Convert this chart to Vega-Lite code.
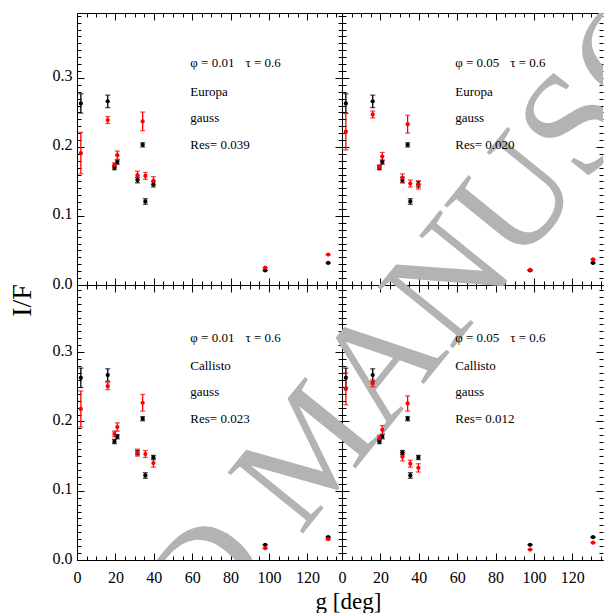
{
"$schema": "https://vega.github.io/schema/vega-lite/v6.json",
"background": "white",
"padding": {"left": 8, "top": 12, "right": 0, "bottom": 0},
"columns": 2,
"spacing": 0,
"bounds": "flush",
"datasets": {
"pts": [
{"p":"TL","s":"obs","g":2,"v":0.263,"lo":0.249,"hi":0.277},
{"p":"TL","s":"obs","g":16,"v":0.266,"lo":0.257,"hi":0.275},
{"p":"TL","s":"obs","g":19.5,"v":0.170,"lo":0.167,"hi":0.173},
{"p":"TL","s":"obs","g":21,"v":0.178,"lo":0.175,"hi":0.181},
{"p":"TL","s":"obs","g":31.5,"v":0.152,"lo":0.148,"hi":0.156},
{"p":"TL","s":"obs","g":34.2,"v":0.203,"lo":0.200,"hi":0.206},
{"p":"TL","s":"obs","g":35.6,"v":0.121,"lo":0.117,"hi":0.125},
{"p":"TL","s":"obs","g":39.8,"v":0.146,"lo":0.142,"hi":0.150},
{"p":"TL","s":"obs","g":98,"v":0.021,"lo":0.021,"hi":0.021},
{"p":"TL","s":"obs","g":130.8,"v":0.032,"lo":0.032,"hi":0.032},
{"p":"TL","s":"model","g":2,"v":0.191,"lo":0.161,"hi":0.221},
{"p":"TL","s":"model","g":16,"v":0.239,"lo":0.234,"hi":0.244},
{"p":"TL","s":"model","g":19.5,"v":0.174,"lo":0.171,"hi":0.177},
{"p":"TL","s":"model","g":21,"v":0.188,"lo":0.182,"hi":0.194},
{"p":"TL","s":"model","g":31.5,"v":0.159,"lo":0.153,"hi":0.165},
{"p":"TL","s":"model","g":34.2,"v":0.237,"lo":0.2235,"hi":0.2505},
{"p":"TL","s":"model","g":35.6,"v":0.158,"lo":0.153,"hi":0.163},
{"p":"TL","s":"model","g":39.8,"v":0.151,"lo":0.145,"hi":0.157},
{"p":"TL","s":"model","g":98,"v":0.025,"lo":0.025,"hi":0.025},
{"p":"TL","s":"model","g":130.8,"v":0.044,"lo":0.044,"hi":0.044},
{"p":"TR","s":"obs","g":2,"v":0.263,"lo":0.249,"hi":0.277},
{"p":"TR","s":"obs","g":16,"v":0.266,"lo":0.257,"hi":0.275},
{"p":"TR","s":"obs","g":19.5,"v":0.170,"lo":0.167,"hi":0.173},
{"p":"TR","s":"obs","g":21,"v":0.178,"lo":0.175,"hi":0.181},
{"p":"TR","s":"obs","g":31.5,"v":0.152,"lo":0.148,"hi":0.156},
{"p":"TR","s":"obs","g":34.2,"v":0.203,"lo":0.200,"hi":0.206},
{"p":"TR","s":"obs","g":35.6,"v":0.121,"lo":0.117,"hi":0.125},
{"p":"TR","s":"obs","g":39.8,"v":0.146,"lo":0.142,"hi":0.150},
{"p":"TR","s":"obs","g":98,"v":0.021,"lo":0.021,"hi":0.021},
{"p":"TR","s":"obs","g":130.8,"v":0.032,"lo":0.032,"hi":0.032},
{"p":"TR","s":"model","g":2,"v":0.222,"lo":0.1955,"hi":0.2485},
{"p":"TR","s":"model","g":16,"v":0.247,"lo":0.242,"hi":0.252},
{"p":"TR","s":"model","g":19.5,"v":0.171,"lo":0.168,"hi":0.174},
{"p":"TR","s":"model","g":21,"v":0.186,"lo":0.180,"hi":0.192},
{"p":"TR","s":"model","g":31.5,"v":0.155,"lo":0.149,"hi":0.161},
{"p":"TR","s":"model","g":34.2,"v":0.233,"lo":0.220,"hi":0.246},
{"p":"TR","s":"model","g":35.6,"v":0.147,"lo":0.142,"hi":0.152},
{"p":"TR","s":"model","g":39.8,"v":0.145,"lo":0.139,"hi":0.151},
{"p":"TR","s":"model","g":98,"v":0.022,"lo":0.022,"hi":0.022},
{"p":"TR","s":"model","g":130.8,"v":0.037,"lo":0.037,"hi":0.037},
{"p":"BL","s":"obs","g":2,"v":0.263,"lo":0.249,"hi":0.277},
{"p":"BL","s":"obs","g":16,"v":0.267,"lo":0.258,"hi":0.276},
{"p":"BL","s":"obs","g":19.5,"v":0.171,"lo":0.168,"hi":0.174},
{"p":"BL","s":"obs","g":21,"v":0.178,"lo":0.175,"hi":0.181},
{"p":"BL","s":"obs","g":31.5,"v":0.155,"lo":0.152,"hi":0.158},
{"p":"BL","s":"obs","g":34.2,"v":0.204,"lo":0.201,"hi":0.207},
{"p":"BL","s":"obs","g":35.6,"v":0.122,"lo":0.118,"hi":0.126},
{"p":"BL","s":"obs","g":39.8,"v":0.148,"lo":0.145,"hi":0.151},
{"p":"BL","s":"obs","g":98,"v":0.022,"lo":0.022,"hi":0.022},
{"p":"BL","s":"obs","g":130.8,"v":0.033,"lo":0.033,"hi":0.033},
{"p":"BL","s":"model","g":2,"v":0.218,"lo":0.192,"hi":0.244},
{"p":"BL","s":"model","g":16,"v":0.251,"lo":0.246,"hi":0.256},
{"p":"BL","s":"model","g":19.5,"v":0.182,"lo":0.178,"hi":0.186},
{"p":"BL","s":"model","g":21,"v":0.192,"lo":0.186,"hi":0.198},
{"p":"BL","s":"model","g":31.5,"v":0.155,"lo":0.150,"hi":0.160},
{"p":"BL","s":"model","g":34.2,"v":0.227,"lo":0.215,"hi":0.239},
{"p":"BL","s":"model","g":35.6,"v":0.153,"lo":0.148,"hi":0.158},
{"p":"BL","s":"model","g":39.8,"v":0.140,"lo":0.134,"hi":0.146},
{"p":"BL","s":"model","g":98,"v":0.017,"lo":0.017,"hi":0.017},
{"p":"BL","s":"model","g":130.8,"v":0.030,"lo":0.030,"hi":0.030},
{"p":"BR","s":"obs","g":2,"v":0.263,"lo":0.249,"hi":0.277},
{"p":"BR","s":"obs","g":16,"v":0.267,"lo":0.258,"hi":0.276},
{"p":"BR","s":"obs","g":19.5,"v":0.171,"lo":0.168,"hi":0.174},
{"p":"BR","s":"obs","g":21,"v":0.178,"lo":0.175,"hi":0.181},
{"p":"BR","s":"obs","g":31.5,"v":0.155,"lo":0.152,"hi":0.158},
{"p":"BR","s":"obs","g":34.2,"v":0.204,"lo":0.201,"hi":0.207},
{"p":"BR","s":"obs","g":35.6,"v":0.122,"lo":0.118,"hi":0.126},
{"p":"BR","s":"obs","g":39.8,"v":0.148,"lo":0.145,"hi":0.151},
{"p":"BR","s":"obs","g":98,"v":0.022,"lo":0.022,"hi":0.022},
{"p":"BR","s":"obs","g":130.8,"v":0.033,"lo":0.033,"hi":0.033},
{"p":"BR","s":"model","g":2,"v":0.247,"lo":0.224,"hi":0.270},
{"p":"BR","s":"model","g":16,"v":0.255,"lo":0.250,"hi":0.260},
{"p":"BR","s":"model","g":19.5,"v":0.176,"lo":0.172,"hi":0.180},
{"p":"BR","s":"model","g":21,"v":0.188,"lo":0.182,"hi":0.194},
{"p":"BR","s":"model","g":31.5,"v":0.149,"lo":0.143,"hi":0.155},
{"p":"BR","s":"model","g":34.2,"v":0.226,"lo":0.215,"hi":0.237},
{"p":"BR","s":"model","g":35.6,"v":0.139,"lo":0.134,"hi":0.144},
{"p":"BR","s":"model","g":39.8,"v":0.133,"lo":0.127,"hi":0.139},
{"p":"BR","s":"model","g":98,"v":0.015,"lo":0.015,"hi":0.015},
{"p":"BR","s":"model","g":130.8,"v":0.025,"lo":0.025,"hi":0.025}
],
"ann": [
{"p":"TL","t":"φ = 0.01","x":59,"y":0.321},
{"p":"TL","t":"τ = 0.6","x":87.7,"y":0.321},
{"p":"TL","t":"Europa","x":59,"y":0.280},
{"p":"TL","t":"gauss","x":59,"y":0.242},
{"p":"TL","t":"Res= 0.039","x":59,"y":0.203},
{"p":"TR","t":"φ = 0.05","x":59,"y":0.321},
{"p":"TR","t":"τ = 0.6","x":87.7,"y":0.321},
{"p":"TR","t":"Europa","x":59,"y":0.280},
{"p":"TR","t":"gauss","x":59,"y":0.242},
{"p":"TR","t":"Res= 0.020","x":59,"y":0.203},
{"p":"BL","t":"φ = 0.01","x":59,"y":0.321},
{"p":"BL","t":"τ = 0.6","x":87.7,"y":0.321},
{"p":"BL","t":"Callisto","x":59,"y":0.280},
{"p":"BL","t":"gauss","x":59,"y":0.242},
{"p":"BL","t":"Res= 0.023","x":59,"y":0.203},
{"p":"BR","t":"φ = 0.05","x":59,"y":0.321},
{"p":"BR","t":"τ = 0.6","x":87.7,"y":0.321},
{"p":"BR","t":"Callisto","x":59,"y":0.280},
{"p":"BR","t":"gauss","x":59,"y":0.242},
{"p":"BR","t":"Res= 0.012","x":59,"y":0.203}
],
"wm": [
{"p":"TL","t":"ACCEPTED MANUSCRIPT","x":123.4,"y":-0.239},
{"p":"TR","t":"ACCEPTED MANUSCRIPT","x":-14.6,"y":-0.239},
{"p":"BL","t":"ACCEPTED MANUSCRIPT","x":123.4,"y":0.159},
{"p":"BR","t":"ACCEPTED MANUSCRIPT","x":-14.6,"y":0.159}
]
},
"concat": [
{
"width": 265, "height": 272,
"resolve": {"axis": {"x": "independent", "y": "independent"}},
"layer": [
{"data": {"name": "wm"}, "transform": [{"filter": "datum.p==='TL'"}],
 "mark": {"type": "text", "clip": true, "angle": -51, "fontSize": 148, "color": "#b3b3b3", "align": "center", "baseline": "middle"},
 "encoding": {"x": {"field": "x", "type": "quantitative", "scale": {"domain": [0, 138], "nice": false, "zero": false}, "axis": null},
  "y": {"field": "y", "type": "quantitative", "scale": {"domain": [0, 0.394], "nice": false, "zero": false}, "axis": null},
  "text": {"field": "t"}}},
{"data": {"name": "pts"}, "transform": [{"filter": "datum.p==='TL'"}],
 "mark": {"type": "rule", "strokeWidth": 1.3},
 "encoding": {"x": {"field": "g", "type": "quantitative", "scale": {"domain": [0, 138], "nice": false, "zero": false}, "axis": {"orient": "bottom", "values": [0,20,40,60,80,100,120], "tickSize": -7, "labels": false, "title": null}},
  "y": {"field": "lo", "type": "quantitative", "scale": {"domain": [0, 0.394], "nice": false, "zero": false}, "axis": {"orient": "left", "values": [0,0.1,0.2,0.3], "tickSize": -7, "format": ".1f", "labelPadding": 12, "labelOffset": -2, "title": null}},
  "y2": {"field": "hi"},
  "color": {"field": "s", "type": "nominal", "scale": {"domain": ["obs","model"], "range": ["#000000","#ff0000"]}, "legend": null}}},
{"data": {"name": "pts"}, "transform": [{"filter": "datum.p==='TL'"}, {"fold": ["lo","hi"], "as": ["k","cv"]}],
 "mark": {"type": "tick", "orient": "horizontal", "size": 5, "thickness": 1.3},
 "encoding": {"x": {"field": "g", "type": "quantitative", "scale": {"domain": [0, 138], "nice": false, "zero": false}, "axis": {"orient": "bottom", "values": [5,10,15,25,30,35,45,50,55,65,70,75,85,90,95,105,110,115,125,130,135], "tickSize": -4, "labels": false, "domain": false, "title": null}},
  "y": {"field": "cv", "type": "quantitative", "scale": {"domain": [0, 0.394], "nice": false, "zero": false}, "axis": {"orient": "left", "values": [0.01,0.02,0.03,0.04,0.05,0.06,0.07,0.08,0.09,0.11,0.12,0.13,0.14,0.15,0.16,0.17,0.18,0.19,0.21,0.22,0.23,0.24,0.25,0.26,0.27,0.28,0.29,0.31,0.32,0.33,0.34,0.35,0.36,0.37,0.38,0.39], "tickSize": -4, "labels": false, "domain": false, "title": null}},
  "color": {"field": "s", "type": "nominal", "scale": {"domain": ["obs","model"], "range": ["#000000","#ff0000"]}, "legend": null}}},
{"data": {"name": "pts"}, "transform": [{"filter": "datum.p==='TL'"}],
 "mark": {"type": "point", "filled": true, "size": 18, "opacity": 1},
 "encoding": {"x": {"field": "g", "type": "quantitative", "scale": {"domain": [0, 138], "nice": false, "zero": false}, "axis": {"orient": "top", "values": [0,20,40,60,80,100,120], "tickSize": -7, "labels": false, "title": null}},
  "y": {"field": "v", "type": "quantitative", "scale": {"domain": [0, 0.394], "nice": false, "zero": false}, "axis": {"orient": "right", "values": [0,0.1,0.2,0.3], "tickSize": -7, "labels": false, "title": null}},
  "color": {"field": "s", "type": "nominal", "scale": {"domain": ["obs","model"], "range": ["#000000","#ff0000"]}, "legend": null}}},
{"data": {"name": "ann"}, "transform": [{"filter": "datum.p==='TL'"}],
 "mark": {"type": "text", "align": "left", "baseline": "middle", "fontSize": 13, "color": "#000000"},
 "encoding": {"x": {"field": "x", "type": "quantitative", "scale": {"domain": [0, 138], "nice": false, "zero": false}, "axis": {"orient": "top", "values": [5,10,15,25,30,35,45,50,55,65,70,75,85,90,95,105,110,115,125,130,135], "tickSize": -4, "labels": false, "domain": false, "title": null}},
  "y": {"field": "y", "type": "quantitative", "scale": {"domain": [0, 0.394], "nice": false, "zero": false}, "axis": {"orient": "right", "values": [0.01,0.02,0.03,0.04,0.05,0.06,0.07,0.08,0.09,0.11,0.12,0.13,0.14,0.15,0.16,0.17,0.18,0.19,0.21,0.22,0.23,0.24,0.25,0.26,0.27,0.28,0.29,0.31,0.32,0.33,0.34,0.35,0.36,0.37,0.38,0.39], "tickSize": -4, "labels": false, "domain": false, "title": null}},
  "text": {"field": "t"}}}
]
},
{
"width": 261, "height": 272,
"resolve": {"axis": {"x": "independent", "y": "independent"}},
"layer": [
{"data": {"name": "wm"}, "transform": [{"filter": "datum.p==='TR'"}],
 "mark": {"type": "text", "clip": true, "angle": -51, "fontSize": 148, "color": "#b3b3b3", "align": "center", "baseline": "middle"},
 "encoding": {"x": {"field": "x", "type": "quantitative", "scale": {"domain": [0, 136], "nice": false, "zero": false}, "axis": null},
  "y": {"field": "y", "type": "quantitative", "scale": {"domain": [0, 0.394], "nice": false, "zero": false}, "axis": null},
  "text": {"field": "t"}}},
{"data": {"name": "pts"}, "transform": [{"filter": "datum.p==='TR'"}],
 "mark": {"type": "rule", "strokeWidth": 1.3},
 "encoding": {"x": {"field": "g", "type": "quantitative", "scale": {"domain": [0, 136], "nice": false, "zero": false}, "axis": {"orient": "bottom", "values": [0,20,40,60,80,100,120], "tickSize": -7, "labels": false, "title": null}},
  "y": {"field": "lo", "type": "quantitative", "scale": {"domain": [0, 0.394], "nice": false, "zero": false}, "axis": {"orient": "left", "values": [0,0.1,0.2,0.3], "tickSize": -7, "labels": false, "title": null}},
  "y2": {"field": "hi"},
  "color": {"field": "s", "type": "nominal", "scale": {"domain": ["obs","model"], "range": ["#000000","#ff0000"]}, "legend": null}}},
{"data": {"name": "pts"}, "transform": [{"filter": "datum.p==='TR'"}, {"fold": ["lo","hi"], "as": ["k","cv"]}],
 "mark": {"type": "tick", "orient": "horizontal", "size": 5, "thickness": 1.3},
 "encoding": {"x": {"field": "g", "type": "quantitative", "scale": {"domain": [0, 136], "nice": false, "zero": false}, "axis": {"orient": "bottom", "values": [5,10,15,25,30,35,45,50,55,65,70,75,85,90,95,105,110,115,125,130,135], "tickSize": -4, "labels": false, "domain": false, "title": null}},
  "y": {"field": "cv", "type": "quantitative", "scale": {"domain": [0, 0.394], "nice": false, "zero": false}, "axis": {"orient": "left", "values": [0.01,0.02,0.03,0.04,0.05,0.06,0.07,0.08,0.09,0.11,0.12,0.13,0.14,0.15,0.16,0.17,0.18,0.19,0.21,0.22,0.23,0.24,0.25,0.26,0.27,0.28,0.29,0.31,0.32,0.33,0.34,0.35,0.36,0.37,0.38,0.39], "tickSize": -4, "labels": false, "domain": false, "title": null}},
  "color": {"field": "s", "type": "nominal", "scale": {"domain": ["obs","model"], "range": ["#000000","#ff0000"]}, "legend": null}}},
{"data": {"name": "pts"}, "transform": [{"filter": "datum.p==='TR'"}],
 "mark": {"type": "point", "filled": true, "size": 18, "opacity": 1},
 "encoding": {"x": {"field": "g", "type": "quantitative", "scale": {"domain": [0, 136], "nice": false, "zero": false}, "axis": {"orient": "top", "values": [0,20,40,60,80,100,120], "tickSize": -7, "labels": false, "title": null}},
  "y": {"field": "v", "type": "quantitative", "scale": {"domain": [0, 0.394], "nice": false, "zero": false}, "axis": {"orient": "right", "values": [0,0.1,0.2,0.3], "tickSize": -7, "labels": false, "domain": false, "title": null}},
  "color": {"field": "s", "type": "nominal", "scale": {"domain": ["obs","model"], "range": ["#000000","#ff0000"]}, "legend": null}}},
{"data": {"name": "ann"}, "transform": [{"filter": "datum.p==='TR'"}],
 "mark": {"type": "text", "align": "left", "baseline": "middle", "fontSize": 13, "color": "#000000"},
 "encoding": {"x": {"field": "x", "type": "quantitative", "scale": {"domain": [0, 136], "nice": false, "zero": false}, "axis": {"orient": "top", "values": [5,10,15,25,30,35,45,50,55,65,70,75,85,90,95,105,110,115,125,130,135], "tickSize": -4, "labels": false, "domain": false, "title": null}},
  "y": {"field": "y", "type": "quantitative", "scale": {"domain": [0, 0.394], "nice": false, "zero": false}, "axis": {"orient": "right", "values": [0.01,0.02,0.03,0.04,0.05,0.06,0.07,0.08,0.09,0.11,0.12,0.13,0.14,0.15,0.16,0.17,0.18,0.19,0.21,0.22,0.23,0.24,0.25,0.26,0.27,0.28,0.29,0.31,0.32,0.33,0.34,0.35,0.36,0.37,0.38,0.39], "tickSize": -4, "labels": false, "domain": false, "title": null}},
  "text": {"field": "t"}}}
]
},
{
"width": 265, "height": 275,
"resolve": {"axis": {"x": "independent", "y": "independent"}},
"layer": [
{"data": {"name": "wm"}, "transform": [{"filter": "datum.p==='BL'"}],
 "mark": {"type": "text", "clip": true, "angle": -51, "fontSize": 148, "color": "#b3b3b3", "align": "center", "baseline": "middle"},
 "encoding": {"x": {"field": "x", "type": "quantitative", "scale": {"domain": [0, 138], "nice": false, "zero": false}, "axis": null},
  "y": {"field": "y", "type": "quantitative", "scale": {"domain": [0, 0.397], "nice": false, "zero": false}, "axis": null},
  "text": {"field": "t"}}},
{"data": {"name": "pts"}, "transform": [{"filter": "datum.p==='BL'"}],
 "mark": {"type": "rule", "strokeWidth": 1.3},
 "encoding": {"x": {"field": "g", "type": "quantitative", "scale": {"domain": [0, 138], "nice": false, "zero": false}, "axis": {"orient": "bottom", "values": [0,20,40,60,80,100,120], "tickSize": -7, "format": "d", "labelBaseline": "middle", "labelPadding": 24, "title": "g [deg]", "titleFontSize": 23, "titleX": 271, "titleY": 48, "titleBaseline": "alphabetic", "titleAlign": "center", "titleAngle": 0}},
  "y": {"field": "lo", "type": "quantitative", "scale": {"domain": [0, 0.397], "nice": false, "zero": false}, "axis": {"orient": "left", "values": [0,0.1,0.2,0.3], "tickSize": -7, "format": ".1f", "labelPadding": 12, "labelOffset": -2, "title": "I/F", "titleFontSize": 28, "titleX": -47, "titleY": 15, "titleAngle": -90, "titleBaseline": "alphabetic", "titleAlign": "center"}},
  "y2": {"field": "hi"},
  "color": {"field": "s", "type": "nominal", "scale": {"domain": ["obs","model"], "range": ["#000000","#ff0000"]}, "legend": null}}},
{"data": {"name": "pts"}, "transform": [{"filter": "datum.p==='BL'"}, {"fold": ["lo","hi"], "as": ["k","cv"]}],
 "mark": {"type": "tick", "orient": "horizontal", "size": 5, "thickness": 1.3},
 "encoding": {"x": {"field": "g", "type": "quantitative", "scale": {"domain": [0, 138], "nice": false, "zero": false}, "axis": {"orient": "bottom", "values": [5,10,15,25,30,35,45,50,55,65,70,75,85,90,95,105,110,115,125,130,135], "tickSize": -4, "labels": false, "domain": false, "title": null}},
  "y": {"field": "cv", "type": "quantitative", "scale": {"domain": [0, 0.397], "nice": false, "zero": false}, "axis": {"orient": "left", "values": [0.01,0.02,0.03,0.04,0.05,0.06,0.07,0.08,0.09,0.11,0.12,0.13,0.14,0.15,0.16,0.17,0.18,0.19,0.21,0.22,0.23,0.24,0.25,0.26,0.27,0.28,0.29,0.31,0.32,0.33,0.34,0.35,0.36,0.37,0.38,0.39], "tickSize": -4, "labels": false, "domain": false, "title": null}},
  "color": {"field": "s", "type": "nominal", "scale": {"domain": ["obs","model"], "range": ["#000000","#ff0000"]}, "legend": null}}},
{"data": {"name": "pts"}, "transform": [{"filter": "datum.p==='BL'"}],
 "mark": {"type": "point", "filled": true, "size": 18, "opacity": 1},
 "encoding": {"x": {"field": "g", "type": "quantitative", "scale": {"domain": [0, 138], "nice": false, "zero": false}, "axis": {"orient": "top", "values": [0,20,40,60,80,100,120], "tickSize": -7, "labels": false, "title": null}},
  "y": {"field": "v", "type": "quantitative", "scale": {"domain": [0, 0.397], "nice": false, "zero": false}, "axis": {"orient": "right", "values": [0,0.1,0.2,0.3], "tickSize": -7, "labels": false, "title": null}},
  "color": {"field": "s", "type": "nominal", "scale": {"domain": ["obs","model"], "range": ["#000000","#ff0000"]}, "legend": null}}},
{"data": {"name": "ann"}, "transform": [{"filter": "datum.p==='BL'"}],
 "mark": {"type": "text", "align": "left", "baseline": "middle", "fontSize": 13, "color": "#000000"},
 "encoding": {"x": {"field": "x", "type": "quantitative", "scale": {"domain": [0, 138], "nice": false, "zero": false}, "axis": {"orient": "top", "values": [5,10,15,25,30,35,45,50,55,65,70,75,85,90,95,105,110,115,125,130,135], "tickSize": -4, "labels": false, "domain": false, "title": null}},
  "y": {"field": "y", "type": "quantitative", "scale": {"domain": [0, 0.397], "nice": false, "zero": false}, "axis": {"orient": "right", "values": [0.01,0.02,0.03,0.04,0.05,0.06,0.07,0.08,0.09,0.11,0.12,0.13,0.14,0.15,0.16,0.17,0.18,0.19,0.21,0.22,0.23,0.24,0.25,0.26,0.27,0.28,0.29,0.31,0.32,0.33,0.34,0.35,0.36,0.37,0.38,0.39], "tickSize": -4, "labels": false, "domain": false, "title": null}},
  "text": {"field": "t"}}}
]
},
{
"width": 261, "height": 275,
"resolve": {"axis": {"x": "independent", "y": "independent"}},
"layer": [
{"data": {"name": "wm"}, "transform": [{"filter": "datum.p==='BR'"}],
 "mark": {"type": "text", "clip": true, "angle": -51, "fontSize": 148, "color": "#b3b3b3", "align": "center", "baseline": "middle"},
 "encoding": {"x": {"field": "x", "type": "quantitative", "scale": {"domain": [0, 136], "nice": false, "zero": false}, "axis": null},
  "y": {"field": "y", "type": "quantitative", "scale": {"domain": [0, 0.397], "nice": false, "zero": false}, "axis": null},
  "text": {"field": "t"}}},
{"data": {"name": "pts"}, "transform": [{"filter": "datum.p==='BR'"}],
 "mark": {"type": "rule", "strokeWidth": 1.3},
 "encoding": {"x": {"field": "g", "type": "quantitative", "scale": {"domain": [0, 136], "nice": false, "zero": false}, "axis": {"orient": "bottom", "values": [0,20,40,60,80,100,120], "tickSize": -7, "format": "d", "labelBaseline": "middle", "labelPadding": 24, "title": null}},
  "y": {"field": "lo", "type": "quantitative", "scale": {"domain": [0, 0.397], "nice": false, "zero": false}, "axis": {"orient": "left", "values": [0,0.1,0.2,0.3], "tickSize": -7, "labels": false, "title": null}},
  "y2": {"field": "hi"},
  "color": {"field": "s", "type": "nominal", "scale": {"domain": ["obs","model"], "range": ["#000000","#ff0000"]}, "legend": null}}},
{"data": {"name": "pts"}, "transform": [{"filter": "datum.p==='BR'"}, {"fold": ["lo","hi"], "as": ["k","cv"]}],
 "mark": {"type": "tick", "orient": "horizontal", "size": 5, "thickness": 1.3},
 "encoding": {"x": {"field": "g", "type": "quantitative", "scale": {"domain": [0, 136], "nice": false, "zero": false}, "axis": {"orient": "bottom", "values": [5,10,15,25,30,35,45,50,55,65,70,75,85,90,95,105,110,115,125,130,135], "tickSize": -4, "labels": false, "domain": false, "title": null}},
  "y": {"field": "cv", "type": "quantitative", "scale": {"domain": [0, 0.397], "nice": false, "zero": false}, "axis": {"orient": "left", "values": [0.01,0.02,0.03,0.04,0.05,0.06,0.07,0.08,0.09,0.11,0.12,0.13,0.14,0.15,0.16,0.17,0.18,0.19,0.21,0.22,0.23,0.24,0.25,0.26,0.27,0.28,0.29,0.31,0.32,0.33,0.34,0.35,0.36,0.37,0.38,0.39], "tickSize": -4, "labels": false, "domain": false, "title": null}},
  "color": {"field": "s", "type": "nominal", "scale": {"domain": ["obs","model"], "range": ["#000000","#ff0000"]}, "legend": null}}},
{"data": {"name": "pts"}, "transform": [{"filter": "datum.p==='BR'"}],
 "mark": {"type": "point", "filled": true, "size": 18, "opacity": 1},
 "encoding": {"x": {"field": "g", "type": "quantitative", "scale": {"domain": [0, 136], "nice": false, "zero": false}, "axis": {"orient": "top", "values": [0,20,40,60,80,100,120], "tickSize": -7, "labels": false, "title": null}},
  "y": {"field": "v", "type": "quantitative", "scale": {"domain": [0, 0.397], "nice": false, "zero": false}, "axis": {"orient": "right", "values": [0,0.1,0.2,0.3], "tickSize": -7, "labels": false, "domain": false, "title": null}},
  "color": {"field": "s", "type": "nominal", "scale": {"domain": ["obs","model"], "range": ["#000000","#ff0000"]}, "legend": null}}},
{"data": {"name": "ann"}, "transform": [{"filter": "datum.p==='BR'"}],
 "mark": {"type": "text", "align": "left", "baseline": "middle", "fontSize": 13, "color": "#000000"},
 "encoding": {"x": {"field": "x", "type": "quantitative", "scale": {"domain": [0, 136], "nice": false, "zero": false}, "axis": {"orient": "top", "values": [5,10,15,25,30,35,45,50,55,65,70,75,85,90,95,105,110,115,125,130,135], "tickSize": -4, "labels": false, "domain": false, "title": null}},
  "y": {"field": "y", "type": "quantitative", "scale": {"domain": [0, 0.397], "nice": false, "zero": false}, "axis": {"orient": "right", "values": [0.01,0.02,0.03,0.04,0.05,0.06,0.07,0.08,0.09,0.11,0.12,0.13,0.14,0.15,0.16,0.17,0.18,0.19,0.21,0.22,0.23,0.24,0.25,0.26,0.27,0.28,0.29,0.31,0.32,0.33,0.34,0.35,0.36,0.37,0.38,0.39], "tickSize": -4, "labels": false, "domain": false, "title": null}},
  "text": {"field": "t"}}}
]
}
],
"config": {
 "view": {"stroke": null},
 "font": "Liberation Serif",
 "text": {"font": "Liberation Serif"},
 "axis": {"grid": false, "domainColor": "#000000", "tickColor": "#000000", "labelColor": "#000000", "titleColor": "#000000", "labelFont": "Liberation Serif", "labelFontSize": 16, "titleFont": "Liberation Serif", "titleFontWeight": "normal", "labelFlush": false, "labelOverlap": false, "domainWidth": 1, "tickWidth": 1}
}
}
